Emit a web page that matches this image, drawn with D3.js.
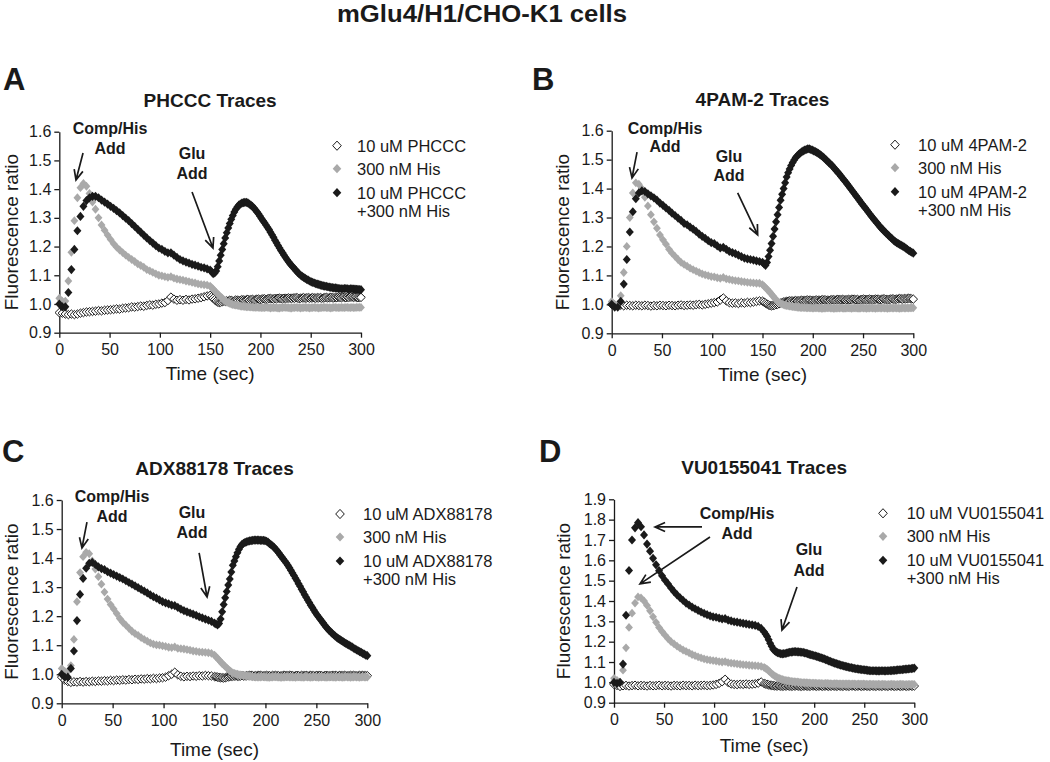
<!DOCTYPE html>
<html><head><meta charset="utf-8">
<script src="https://cdn.jsdelivr.net/npm/d3@7"></script>
<style>body{margin:0;background:#fff;} svg{display:block;font-family:"Liberation Sans",Arial,Helvetica,sans-serif;}</style>
</head><body><svg id="c" width="1050" height="762"></svg>
<script>
// ---------------- DATA ----------------
const mainTitle = "mGlu4/H1/CHO-K1 cells";
const panelLetters = ["A", "B", "C", "D"];
const panelTitles = ["PHCCC Traces", "4PAM-2 Traces", "ADX88178 Traces", "VU0155041 Traces"];
const legendA = [["10 uM PHCCC"], ["300 nM His"], ["10 uM PHCCC", "+300 nM His"]];
const legendB = [["10 uM 4PAM-2"], ["300 nM His"], ["10 uM 4PAM-2", "+300 nM His"]];
const legendC = [["10 uM ADX88178"], ["300 nM His"], ["10 uM ADX88178", "+300 nM His"]];
const legendD = [["10 uM VU0155041"], ["300 nM His"], ["10 uM VU0155041", "+300 nM His"]];
const xTicks = [0, 50, 100, 150, 200, 250, 300];
const yTicksLow = [0.9, 1.0, 1.1, 1.2, 1.3, 1.4, 1.5, 1.6];
const yTicksHigh = [0.9, 1.0, 1.1, 1.2, 1.3, 1.4, 1.5, 1.6, 1.7, 1.8, 1.9];
const xLabel = "Time (sec)";
const yLabel = "Fluorescence ratio";

// time (sec) of each reading: every 3 s up to 147 s, every 1.5 s afterwards
const times = [0,3,6,9,12,15,18,21,24,27,
 30,33,36,39,42,45,48,51,54,57,
 60,63,66,69,72,75,78,81,84,87,
 90,93,96,99,102,105,108,111,114,117,
 120,123,126,129,132,135,138,141,144,147,
 150,151.5,153,154.5,156,157.5,159,160.5,162,163.5,
 165,166.5,168,169.5,171,172.5,174,175.5,177,178.5,
 180,181.5,183,184.5,186,187.5,189,190.5,192,193.5,
 195,196.5,198,199.5,201,202.5,204,205.5,207,208.5,
 210,211.5,213,214.5,216,217.5,219,220.5,222,223.5,
 225,226.5,228,229.5,231,232.5,234,235.5,237,238.5,
 240,241.5,243,244.5,246,247.5,249,250.5,252,253.5,
 255,256.5,258,259.5,261,262.5,264,265.5,267,268.5,
 270,271.5,273,274.5,276,277.5,279,280.5,282,283.5,
 285,286.5,288,289.5,291,292.5,294,295.5,297,298.5,
 300];

// Panel A – PHCCC
const aOpen = [0.97,0.968,0.965,0.963,0.965,0.963,0.965,0.968,0.97,0.972,
 0.973,0.974,0.975,0.977,0.976,0.978,0.979,0.98,0.981,0.983,
 0.982,0.985,0.986,0.987,0.99,0.989,0.991,0.993,0.992,0.995,
 0.997,0.996,0.999,1.0,1.003,1.005,1.012,1.024,1.017,1.013,
 1.015,1.013,1.016,1.014,1.017,1.018,1.02,1.022,1.025,1.028,
 1.03,1.025,1.02,1.015,1.01,1.007,1.005,1.006,1.008,1.01,
 1.009,1.011,1.01,1.013,1.012,1.01,1.011,1.014,1.013,1.012,
 1.012,1.015,1.014,1.013,1.015,1.016,1.013,1.015,1.016,1.014,
 1.015,1.017,1.017,1.015,1.016,1.018,1.018,1.016,1.017,1.019,
 1.019,1.018,1.017,1.019,1.018,1.02,1.02,1.019,1.018,1.02,
 1.019,1.02,1.021,1.02,1.019,1.021,1.02,1.022,1.021,1.019,
 1.02,1.021,1.022,1.02,1.021,1.022,1.02,1.021,1.022,1.021,
 1.02,1.022,1.021,1.022,1.02,1.021,1.022,1.023,1.021,1.022,
 1.023,1.022,1.021,1.023,1.022,1.024,1.023,1.022,1.024,1.023,
 1.022,1.024,1.023,1.025,1.024,1.023,1.024,1.023,1.022,1.023,
 1.023];
const aGray = [1.02,1.01,1.01,1.08,1.18,1.29,1.37,1.405,1.42,1.41,
 1.385,1.355,1.33,1.3,1.275,1.257,1.24,1.225,1.21,1.198,
 1.188,1.179,1.17,1.162,1.155,1.148,1.14,1.134,1.128,1.12,
 1.115,1.11,1.105,1.1,1.098,1.095,1.093,1.095,1.09,1.087,
 1.085,1.083,1.08,1.078,1.075,1.073,1.07,1.068,1.067,1.066,
 1.062,1.057,1.052,1.046,1.04,1.035,1.03,1.025,1.02,1.015,
 1.01,1.007,1.004,1.002,1.0,0.998,0.997,0.996,0.995,0.994,
 0.993,0.992,0.992,0.991,0.99,0.99,0.99,0.989,0.989,0.988,
 0.988,0.988,0.988,0.987,0.987,0.987,0.987,0.988,0.988,0.987,
 0.986,0.987,0.987,0.987,0.987,0.986,0.986,0.987,0.987,0.988,
 0.988,0.987,0.987,0.986,0.986,0.987,0.987,0.988,0.987,0.987,
 0.986,0.987,0.987,0.988,0.987,0.987,0.986,0.987,0.987,0.988,
 0.987,0.987,0.986,0.987,0.987,0.988,0.988,0.987,0.987,0.987,
 0.986,0.987,0.988,0.988,0.987,0.987,0.987,0.988,0.987,0.987,
 0.988,0.988,0.987,0.987,0.988,0.987,0.987,0.988,0.988,0.988,
 0.988];
const aBlack = [1.0,0.99,0.99,1.04,1.12,1.19,1.255,1.305,1.34,1.36,
 1.37,1.375,1.375,1.37,1.362,1.355,1.348,1.34,1.333,1.325,
 1.317,1.308,1.299,1.29,1.28,1.27,1.26,1.25,1.24,1.23,
 1.221,1.212,1.203,1.195,1.19,1.183,1.178,1.178,1.17,1.162,
 1.155,1.15,1.146,1.142,1.138,1.135,1.132,1.128,1.126,1.122,
 1.118,1.112,1.106,1.108,1.115,1.13,1.15,1.17,1.19,1.21,
 1.23,1.248,1.265,1.28,1.295,1.308,1.32,1.33,1.338,1.344,
 1.348,1.351,1.353,1.354,1.354,1.352,1.348,1.344,1.34,1.334,
 1.328,1.321,1.314,1.306,1.298,1.29,1.283,1.275,1.267,1.259,
 1.25,1.241,1.232,1.222,1.213,1.204,1.195,1.186,1.178,1.17,
 1.162,1.154,1.147,1.14,1.134,1.128,1.122,1.116,1.11,1.105,
 1.1,1.096,1.093,1.089,1.086,1.083,1.08,1.077,1.075,1.073,
 1.071,1.069,1.068,1.066,1.065,1.063,1.062,1.061,1.06,1.059,
 1.058,1.057,1.056,1.056,1.055,1.054,1.054,1.053,1.053,1.054,
 1.054,1.053,1.052,1.053,1.053,1.052,1.052,1.051,1.051,1.05,
 1.05];

// Panel B – 4PAM-2
const bOpen = [1.0,0.998,0.996,0.997,0.995,0.997,0.996,0.995,0.997,0.996,
 0.995,0.997,0.996,0.994,0.996,0.995,0.997,0.996,0.995,0.997,
 0.996,0.995,0.997,0.998,0.996,0.997,0.998,0.997,0.999,1.0,
 0.998,1.0,1.002,1.004,1.006,1.008,1.015,1.022,1.012,1.006,
 1.004,1.005,1.003,1.006,1.004,1.007,1.006,1.008,1.01,1.012,
 1.011,1.008,1.004,1.001,0.998,0.996,0.995,0.996,0.997,0.999,
 1.0,1.002,1.004,1.006,1.008,1.009,1.01,1.011,1.012,1.012,
 1.011,1.012,1.013,1.012,1.012,1.013,1.014,1.013,1.013,1.014,
 1.015,1.014,1.014,1.013,1.013,1.014,1.015,1.014,1.014,1.015,
 1.016,1.015,1.015,1.014,1.014,1.015,1.016,1.016,1.015,1.016,
 1.017,1.016,1.016,1.017,1.016,1.015,1.016,1.017,1.016,1.017,
 1.018,1.017,1.016,1.017,1.015,1.016,1.017,1.018,1.017,1.016,
 1.017,1.018,1.017,1.016,1.017,1.018,1.018,1.017,1.016,1.017,
 1.019,1.018,1.017,1.016,1.017,1.018,1.019,1.018,1.017,1.018,
 1.019,1.02,1.019,1.018,1.02,1.019,1.02,1.021,1.02,1.019,
 1.018];
const bGray = [1.01,1.0,1.0,1.03,1.11,1.2,1.3,1.385,1.42,1.415,
 1.4,1.37,1.34,1.31,1.285,1.263,1.24,1.223,1.208,1.19,
 1.177,1.166,1.155,1.145,1.138,1.132,1.125,1.12,1.115,1.11,
 1.105,1.102,1.099,1.096,1.095,1.092,1.09,1.093,1.088,1.086,
 1.084,1.082,1.081,1.079,1.078,1.076,1.075,1.074,1.073,1.073,
 1.068,1.063,1.058,1.052,1.047,1.041,1.035,1.028,1.022,1.016,
 1.01,1.006,1.003,1.001,0.999,0.997,0.996,0.995,0.994,0.993,
 0.992,0.991,0.991,0.99,0.99,0.989,0.989,0.989,0.989,0.988,
 0.988,0.988,0.988,0.987,0.987,0.988,0.988,0.987,0.987,0.986,
 0.986,0.987,0.987,0.988,0.988,0.987,0.987,0.986,0.986,0.987,
 0.987,0.987,0.988,0.987,0.986,0.987,0.987,0.988,0.987,0.986,
 0.987,0.988,0.987,0.987,0.986,0.987,0.988,0.987,0.987,0.986,
 0.987,0.987,0.988,0.987,0.987,0.986,0.987,0.988,0.987,0.987,
 0.988,0.987,0.987,0.986,0.987,0.988,0.987,0.987,0.988,0.987,
 0.987,0.986,0.987,0.988,0.987,0.987,0.988,0.987,0.988,0.988,
 0.988];
const bBlack = [1.0,0.99,0.99,1.01,1.07,1.155,1.25,1.32,1.365,1.385,
 1.392,1.39,1.382,1.375,1.368,1.36,1.35,1.342,1.333,1.325,
 1.315,1.307,1.298,1.29,1.28,1.275,1.267,1.26,1.252,1.243,
 1.235,1.228,1.22,1.213,1.21,1.202,1.195,1.197,1.19,1.183,
 1.179,1.175,1.17,1.165,1.16,1.157,1.155,1.153,1.15,1.148,
 1.145,1.14,1.135,1.145,1.165,1.187,1.21,1.235,1.26,1.285,
 1.31,1.335,1.36,1.38,1.4,1.42,1.44,1.455,1.468,1.48,
 1.49,1.499,1.507,1.513,1.518,1.523,1.527,1.53,1.533,1.535,
 1.537,1.537,1.535,1.533,1.53,1.528,1.525,1.522,1.518,1.514,
 1.51,1.505,1.5,1.495,1.49,1.485,1.48,1.474,1.468,1.462,
 1.456,1.45,1.443,1.437,1.43,1.424,1.417,1.41,1.403,1.396,
 1.389,1.382,1.375,1.368,1.361,1.354,1.347,1.34,1.334,1.327,
 1.32,1.313,1.306,1.3,1.293,1.287,1.281,1.274,1.268,1.262,
 1.257,1.251,1.246,1.241,1.236,1.231,1.226,1.221,1.217,1.213,
 1.21,1.207,1.204,1.201,1.198,1.194,1.19,1.186,1.183,1.18,
 1.177];

// Panel C – ADX88178
const cOpen = [0.99,0.98,0.975,0.972,0.974,0.973,0.975,0.973,0.975,0.974,
 0.976,0.975,0.977,0.976,0.978,0.977,0.979,0.978,0.98,0.979,
 0.981,0.98,0.982,0.981,0.983,0.982,0.984,0.983,0.985,0.984,
 0.986,0.985,0.987,0.988,0.99,0.995,1.0,1.007,0.998,0.993,
 0.991,0.993,0.992,0.994,0.993,0.995,0.994,0.996,0.995,0.994,
 0.992,0.991,0.99,0.989,0.988,0.988,0.987,0.988,0.99,0.991,
 0.992,0.993,0.993,0.994,0.994,0.993,0.993,0.994,0.995,0.994,
 0.994,0.995,0.995,0.996,0.996,0.995,0.994,0.995,0.995,0.996,
 0.996,0.995,0.994,0.995,0.996,0.995,0.995,0.994,0.996,0.995,
 0.996,0.995,0.995,0.994,0.994,0.996,0.996,0.995,0.995,0.996,
 0.996,0.995,0.994,0.995,0.996,0.995,0.994,0.996,0.995,0.995,
 0.996,0.994,0.995,0.996,0.995,0.995,0.994,0.996,0.995,0.996,
 0.995,0.994,0.995,0.996,0.995,0.995,0.994,0.996,0.995,0.996,
 0.995,0.994,0.996,0.995,0.995,0.996,0.995,0.994,0.995,0.996,
 0.995,0.996,0.995,0.994,0.995,0.996,0.995,0.996,0.995,0.995,
 0.995];
const cGray = [1.02,1.01,1.01,1.03,1.12,1.25,1.35,1.405,1.42,1.415,
 1.39,1.362,1.336,1.31,1.283,1.259,1.24,1.225,1.209,1.192,
 1.179,1.169,1.158,1.148,1.14,1.134,1.126,1.12,1.114,1.108,
 1.104,1.101,1.1,1.098,1.096,1.093,1.092,1.094,1.089,1.088,
 1.087,1.085,1.083,1.08,1.079,1.077,1.076,1.075,1.074,1.072,
 1.066,1.06,1.055,1.049,1.043,1.037,1.032,1.027,1.022,1.017,
 1.012,1.008,1.005,1.003,1.001,1.0,0.999,0.998,0.997,0.996,
 0.995,0.994,0.994,0.993,0.992,0.991,0.991,0.99,0.99,0.99,
 0.99,0.991,0.991,0.99,0.99,0.989,0.989,0.99,0.99,0.991,
 0.991,0.99,0.99,0.989,0.989,0.99,0.99,0.991,0.991,0.99,
 0.99,0.99,0.99,0.989,0.99,0.991,0.99,0.99,0.989,0.99,
 0.991,0.99,0.99,0.989,0.99,0.991,0.991,0.99,0.989,0.99,
 0.99,0.991,0.99,0.989,0.99,0.99,0.991,0.99,0.99,0.989,
 0.99,0.991,0.99,0.99,0.989,0.99,0.991,0.99,0.99,0.989,
 0.99,0.99,0.991,0.99,0.99,0.989,0.99,0.991,0.99,0.99,
 0.99];
const cBlack = [1.0,0.99,0.99,1.02,1.08,1.185,1.275,1.33,1.365,1.382,
 1.385,1.378,1.37,1.364,1.36,1.353,1.348,1.343,1.338,1.333,
 1.328,1.322,1.316,1.31,1.304,1.298,1.292,1.286,1.28,1.273,
 1.267,1.262,1.256,1.25,1.246,1.242,1.238,1.236,1.23,1.224,
 1.219,1.215,1.211,1.207,1.203,1.198,1.194,1.19,1.186,1.182,
 1.176,1.173,1.17,1.175,1.19,1.215,1.24,1.263,1.285,1.307,
 1.328,1.352,1.375,1.39,1.405,1.418,1.43,1.44,1.447,1.451,
 1.454,1.456,1.458,1.459,1.46,1.461,1.462,1.462,1.462,1.462,
 1.461,1.461,1.461,1.46,1.458,1.455,1.45,1.446,1.442,1.437,
 1.431,1.425,1.418,1.411,1.404,1.397,1.39,1.383,1.375,1.367,
 1.358,1.349,1.34,1.331,1.322,1.312,1.303,1.293,1.284,1.274,
 1.265,1.256,1.247,1.238,1.23,1.221,1.213,1.205,1.198,1.191,
 1.184,1.177,1.17,1.163,1.157,1.151,1.146,1.141,1.136,1.131,
 1.127,1.123,1.12,1.116,1.113,1.109,1.106,1.103,1.1,1.097,
 1.094,1.09,1.087,1.084,1.081,1.078,1.075,1.072,1.069,1.066,
 1.064];

// Panel D – VU0155041
const dOpen = [0.99,0.985,0.98,0.983,0.985,0.982,0.984,0.986,0.983,0.985,
 0.984,0.982,0.985,0.983,0.984,0.986,0.983,0.985,0.984,0.982,
 0.985,0.984,0.983,0.986,0.984,0.985,0.983,0.986,0.984,0.985,
 0.986,0.984,0.985,0.987,0.99,0.995,1.003,1.015,1.0,0.992,
 0.99,0.989,0.991,0.99,0.992,0.99,0.991,0.993,0.996,1.002,
 0.994,0.992,0.99,0.988,0.986,0.985,0.984,0.983,0.982,0.983,
 0.983,0.982,0.981,0.982,0.982,0.983,0.983,0.982,0.981,0.982,
 0.982,0.983,0.983,0.982,0.981,0.981,0.982,0.983,0.982,0.982,
 0.981,0.982,0.983,0.983,0.982,0.981,0.982,0.983,0.982,0.981,
 0.982,0.983,0.982,0.981,0.982,0.982,0.983,0.982,0.981,0.982,
 0.983,0.982,0.981,0.982,0.983,0.982,0.981,0.982,0.983,0.983,
 0.982,0.981,0.982,0.983,0.982,0.981,0.982,0.983,0.982,0.982,
 0.981,0.982,0.983,0.982,0.981,0.982,0.983,0.982,0.981,0.982,
 0.983,0.982,0.981,0.982,0.983,0.982,0.982,0.981,0.982,0.983,
 0.982,0.981,0.982,0.983,0.982,0.981,0.982,0.983,0.982,0.982,
 0.982];
const dGray = [1.02,1.01,1.0,1.06,1.17,1.27,1.34,1.39,1.42,1.415,
 1.4,1.378,1.352,1.322,1.295,1.27,1.25,1.232,1.215,1.2,
 1.189,1.178,1.168,1.159,1.152,1.145,1.137,1.131,1.125,1.12,
 1.115,1.112,1.109,1.107,1.105,1.102,1.1,1.102,1.097,1.095,
 1.093,1.091,1.089,1.087,1.086,1.084,1.083,1.082,1.081,1.079,
 1.073,1.069,1.064,1.057,1.05,1.043,1.037,1.032,1.027,1.023,
 1.02,1.017,1.014,1.012,1.01,1.009,1.008,1.006,1.005,1.004,
 1.003,1.002,1.002,1.001,1.0,0.999,0.999,0.998,0.998,0.997,
 0.997,0.996,0.996,0.996,0.996,0.995,0.995,0.995,0.995,0.994,
 0.994,0.995,0.995,0.994,0.994,0.993,0.993,0.994,0.994,0.993,
 0.993,0.993,0.992,0.993,0.992,0.992,0.993,0.992,0.991,0.992,
 0.992,0.991,0.991,0.992,0.991,0.991,0.992,0.991,0.991,0.99,
 0.991,0.991,0.99,0.991,0.99,0.99,0.991,0.99,0.99,0.991,
 0.99,0.99,0.989,0.99,0.99,0.991,0.99,0.99,0.989,0.99,
 0.99,0.991,0.99,0.99,0.989,0.99,0.99,0.99,0.99,0.99,
 0.99];
const dBlack = [1.0,0.995,1.0,1.09,1.33,1.55,1.7,1.76,1.785,1.765,
 1.725,1.68,1.645,1.61,1.578,1.549,1.524,1.502,1.484,1.464,
 1.446,1.43,1.416,1.403,1.39,1.38,1.37,1.362,1.354,1.346,
 1.339,1.333,1.327,1.322,1.32,1.316,1.312,1.313,1.306,1.302,
 1.298,1.296,1.293,1.29,1.288,1.285,1.283,1.28,1.275,1.265,
 1.248,1.237,1.225,1.209,1.192,1.177,1.163,1.156,1.15,1.146,
 1.143,1.141,1.14,1.141,1.142,1.144,1.146,1.148,1.149,1.15,
 1.151,1.151,1.15,1.15,1.149,1.148,1.147,1.145,1.143,1.141,
 1.138,1.136,1.134,1.132,1.13,1.128,1.125,1.123,1.12,1.118,
 1.115,1.112,1.109,1.106,1.103,1.1,1.097,1.095,1.092,1.09,
 1.087,1.085,1.083,1.081,1.079,1.077,1.075,1.073,1.072,1.07,
 1.069,1.067,1.066,1.065,1.064,1.063,1.062,1.061,1.06,1.059,
 1.058,1.057,1.057,1.057,1.057,1.056,1.056,1.056,1.057,1.057,
 1.056,1.056,1.057,1.057,1.058,1.058,1.059,1.059,1.06,1.061,
 1.062,1.062,1.063,1.064,1.065,1.065,1.066,1.067,1.068,1.069,
 1.07];

// ---------------- LAYOUT ----------------
const panels = [
  { letter: panelLetters[0], title: panelTitles[0], legend: legendA, open: aOpen, gray: aGray, black: aBlack,
    left: 59.3, right: 361, top: 131.7, bottom: 332.7, ymax: 1.6, yTicks: yTicksLow,
    letterX: 3, letterY: 90, legX: 337, legTX: 357, xTitleDy: 47, yTitleDx: -41,
    notes: [["Comp/His", 50.4, 1.592], ["Add", 50.4, 1.522], ["Glu", 132, 1.505], ["Add", 132, 1.435]],
    arrows: [[23.6, 1.526, 16.6, 1.432], [132, 1.39, 152.8, 1.195]] },
  { letter: panelLetters[1], title: panelTitles[1], legend: legendB, open: bOpen, gray: bGray, black: bBlack,
    left: 611.7, right: 913.3, top: 130.7, bottom: 333.3, ymax: 1.6, yTicks: yTicksLow,
    letterX: 532, letterY: 90, legX: 895, legTX: 918, xTitleDy: 48, yTitleDx: -43,
    notes: [["Comp/His", 53, 1.59], ["Add", 53, 1.525], ["Glu", 116.7, 1.491], ["Add", 116.7, 1.425]],
    arrows: [[25.2, 1.526, 20.2, 1.437], [125.3, 1.385, 145.2, 1.24]] },
  { letter: panelLetters[2], title: panelTitles[2], legend: legendC, open: cOpen, gray: cGray, black: cBlack,
    left: 61.7, right: 367.3, top: 500, bottom: 703.3, ymax: 1.6, yTicks: yTicksLow,
    letterX: 2, letterY: 462, legX: 340, legTX: 363, xTitleDy: 53, yTitleDx: -44,
    notes: [["Comp/His", 49.4, 1.593], ["Add", 49.4, 1.524], ["Glu", 127.9, 1.538], ["Add", 127.9, 1.469]],
    arrows: [[24.8, 1.524, 19.9, 1.435], [134.9, 1.418, 142.7, 1.266]] },
  { letter: panelLetters[3], title: panelTitles[3], legend: legendD, open: dOpen, gray: dGray, black: dBlack,
    left: 614, right: 914.3, top: 499.3, bottom: 702.7, ymax: 1.9, yTicks: yTicksHigh,
    letterX: 539, letterY: 462, legX: 883, legTX: 906.7, xTitleDy: 49, yTitleDx: -44,
    notes: [["Comp/His", 122.9, 1.803], ["Add", 122.9, 1.705], ["Glu", 194.8, 1.624], ["Add", 194.8, 1.525]],
    arrows: [[87.9, 1.764, 41, 1.764], [95.9, 1.715, 26, 1.484], [182.8, 1.469, 167.8, 1.257]] }
];

const INK = "#1a1a1a", GRAY = "#a9a9a9";
const diamond = (w, h) => `M0,${-h}L${w},0L0,${h}L${-w},0Z`;
const styles = {
  open:  { d: diamond(4.3, 4.2), fill: "#fff", stroke: INK, sw: 1 },
  gray:  { d: diamond(3.9, 4.4), fill: GRAY, stroke: "none", sw: 0 },
  black: { d: diamond(4.0, 4.6), fill: INK, stroke: "none", sw: 0 }
};

const svg = d3.select("#c");
svg.append("text").attr("x", 482).attr("y", 22).attr("text-anchor", "middle")
  .attr("font-size", 23).attr("font-weight", "bold").attr("fill", INK)
  .attr("textLength", 290).attr("lengthAdjust", "spacingAndGlyphs").text(mainTitle);

panels.forEach(p => {
  const g = svg.append("g");
  const x = d3.scaleLinear().domain([0, 300]).range([p.left, p.right]);
  const y = d3.scaleLinear().domain([0.9, p.ymax]).range([p.bottom, p.top]);

  // letter + title
  g.append("text").attr("x", p.letterX).attr("y", p.letterY).attr("font-size", 31)
    .attr("font-weight", "bold").attr("fill", INK).text(p.letter);
  g.append("text").attr("x", (p.left + p.right) / 2).attr("y", p.top - 25).attr("text-anchor", "middle")
    .attr("font-size", 19).attr("font-weight", "bold").attr("fill", INK).text(p.title);

  // axes
  const ya = g.append("g").attr("transform", `translate(${p.left},0)`)
    .call(d3.axisLeft(y).tickValues(p.yTicks).tickFormat(d3.format(".1f")).tickSize(5).tickSizeOuter(0).tickPadding(3));
  const xa = g.append("g").attr("transform", `translate(0,${p.bottom})`)
    .call(d3.axisBottom(x).tickValues(xTicks).tickSize(5).tickSizeOuter(0).tickPadding(6));
  [ya, xa].forEach(a => {
    a.selectAll("path,line").attr("stroke", INK).attr("stroke-width", 1.3);
    a.selectAll("text").attr("font-size", 16).attr("fill", INK).attr("font-family", '"Liberation Sans",Arial,sans-serif');
  });
  g.append("text").attr("x", (p.left + p.right) / 2).attr("y", p.bottom + p.xTitleDy).attr("text-anchor", "middle")
    .attr("font-size", 19).attr("fill", INK).text(xLabel);
  g.append("text").attr("transform", `translate(${p.left + p.yTitleDx},${(p.top + p.bottom) / 2}) rotate(-90)`)
    .attr("text-anchor", "middle").attr("font-size", 19).attr("fill", INK).text(yLabel);

  // series
  [["open", p.open], ["gray", p.gray], ["black", p.black]].forEach(([k, vals]) => {
    const s = styles[k];
    g.append("g").selectAll("path").data(times.map((t, i) => [t, vals[i]])).join("path")
      .attr("transform", d => `translate(${x(d[0])},${y(d[1])})`)
      .attr("d", s.d).attr("fill", s.fill).attr("stroke", s.stroke).attr("stroke-width", s.sw);
  });

  // annotations
  p.notes.forEach(([s, t, v]) => {
    g.append("text").attr("x", x(t)).attr("y", y(v)).attr("text-anchor", "middle")
      .attr("font-size", 16).attr("font-weight", "bold").attr("fill", INK).text(s);
  });
  p.arrows.forEach(([t0, v0, t1, v1]) => {
    const x0 = x(t0), y0 = y(v0), x1 = x(t1), y1 = y(v1);
    const ang = Math.atan2(y1 - y0, x1 - x0), L = 11, sp = 0.42;
    const hx1 = x1 - L * Math.cos(ang - sp), hy1 = y1 - L * Math.sin(ang - sp);
    const hx2 = x1 - L * Math.cos(ang + sp), hy2 = y1 - L * Math.sin(ang + sp);
    g.append("path").attr("d", `M${x0},${y0}L${x1},${y1}M${hx1},${hy1}L${x1},${y1}L${hx2},${hy2}`)
      .attr("fill", "none").attr("stroke", INK).attr("stroke-width", 1.7);
  });

  // legend
  const rowY = [14, 37, 61];
  p.legend.forEach((lines, i) => {
    const k = ["open", "gray", "black"][i], s = styles[k];
    const cy = p.top + rowY[i];
    g.append("path").attr("transform", `translate(${p.legX},${cy})`)
      .attr("d", diamond(4.3, 4.6)).attr("fill", s.fill).attr("stroke", s.stroke).attr("stroke-width", s.sw);
    lines.forEach((ln, j) => {
      g.append("text").attr("x", p.legTX).attr("y", cy + 6 + j * 18).attr("font-size", 16.5)
        .attr("fill", INK).text(ln);
    });
  });
});
</script>
</body></html>
